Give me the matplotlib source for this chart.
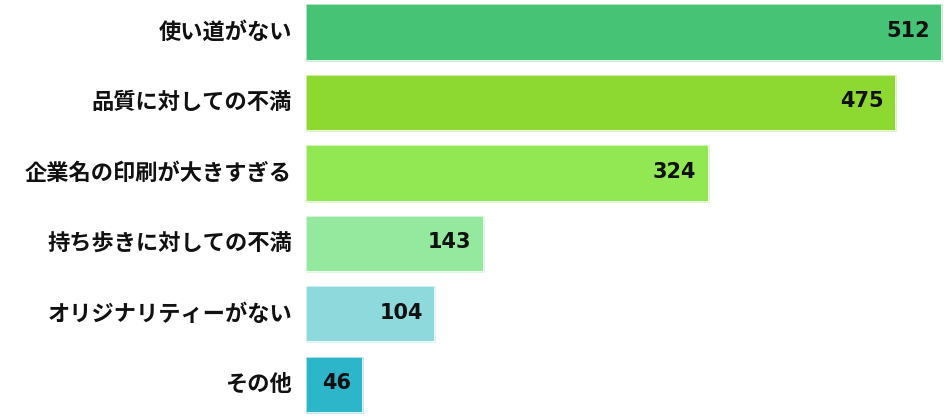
import matplotlib
matplotlib.use("Agg")
import matplotlib.pyplot as plt

plt.rcParams['font.family'] = ['Noto Sans CJK JP', 'DejaVu Sans']

# Data
categories = ['使い道がない', '品質に対しての不満', '企業名の印刷が大きすぎる',
              '持ち歩きに対しての不満', 'オリジナリティーがない', 'その他']
counts = [512, 475, 324, 143, 104, 46]
bar_colors = ['#46C375', '#8DD931', '#92E852', '#94E99E', '#8ED9DB', '#2DB5C9']

fig = plt.figure(figsize=(9.5, 4.2), dpi=100)
ax = fig.add_axes([306 / 950, 0, 640 / 950, 1])

ypos = list(range(len(categories)))
ax.barh(ypos, counts, height=0.8, color=bar_colors,
        edgecolor='#ffffff', linewidth=1.2)
ax.barh(ypos, counts, height=0.8, color='none',
        edgecolor=bar_colors, linewidth=0.6, alpha=0.35)

for y, v in zip(ypos, counts):
    ax.text(v - 10, y - 0.02, str(v), ha='right', va='center',
            fontsize=15, fontweight='bold', color='#111111',
            family='DejaVu Sans')

ax.set_xlim(0, 515)
ax.set_ylim(5.5, -0.46)
ax.set_yticks(ypos)
ax.set_yticklabels(categories, fontsize=16, fontweight='bold', color='#111111',
                   va='center')
ax.tick_params(axis='y', length=0, pad=10)
ax.set_xticks([])
for s in ax.spines.values():
    s.set_visible(False)

fig.savefig('out.png', dpi=100)
